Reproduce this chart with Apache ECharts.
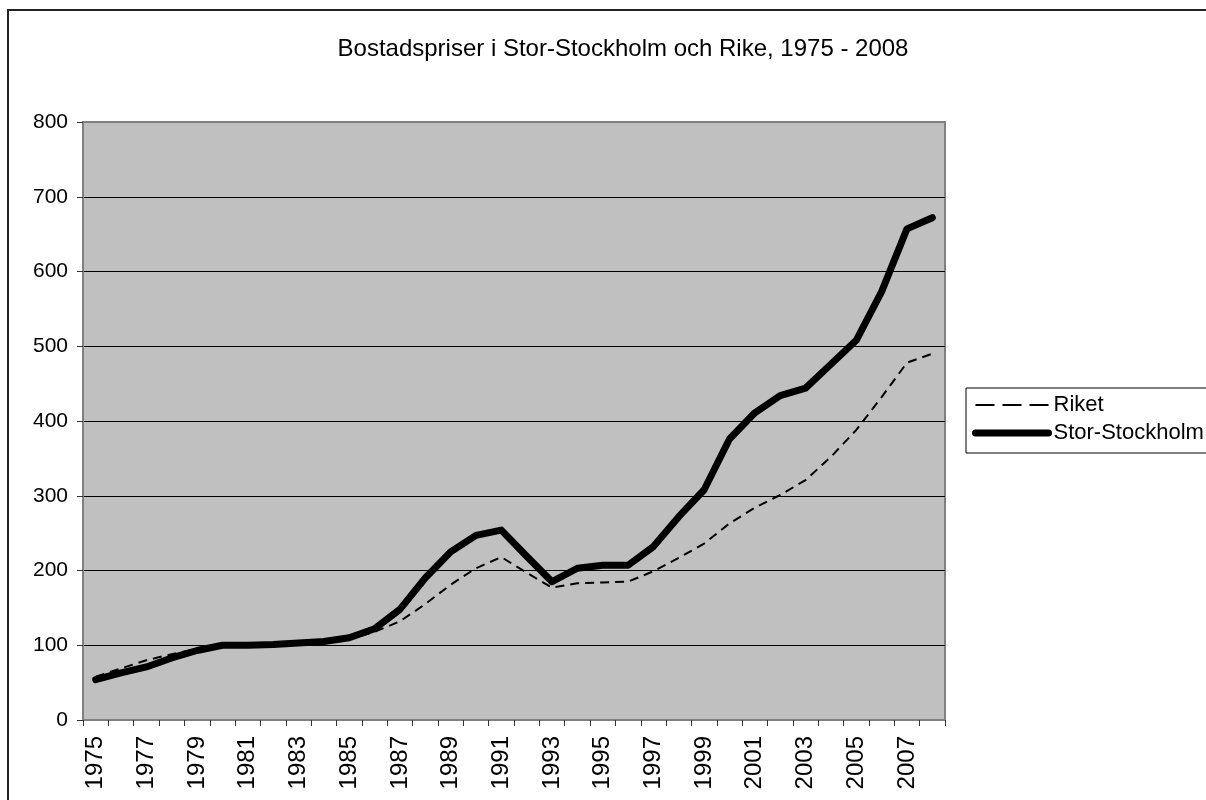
<!DOCTYPE html>
<html>
<head>
<meta charset="utf-8">
<title>Bostadspriser</title>
<script src="https://cdn.jsdelivr.net/npm/echarts@6/dist/echarts.min.js"></script>
<style>
  html, body { margin: 0; padding: 0; background: #fff; }
  #chart { width: 1206px; height: 800px; }
</style>
</head>
<body>
<div id="chart"></div>
<script>
// years on the category axis
var years = ['1975', '1976', '1977', '1978', '1979', '1980', '1981', '1982', '1983', '1984',
  '1985', '1986', '1987', '1988', '1989', '1990', '1991', '1992', '1993', '1994',
  '1995', '1996', '1997', '1998', '1999', '2000', '2001', '2002', '2003', '2004',
  '2005', '2006', '2007', '2008']

// index values
var riket = [58, 69, 80, 88, 95, 99, 99, 100, 102, 103,
  108, 118, 132, 155, 181, 203, 218, 197, 177, 183,
  184, 185, 199, 217, 236, 263, 284, 301, 321, 352,
  388, 432, 478, 490]

var storStockholm = [54, 63, 71, 83, 93, 100, 100, 101, 103, 105,
  110, 122, 148, 190, 225, 247, 254, 219, 185, 203,
  207, 207, 232, 272, 308, 376, 411, 434, 444, 476,
  508, 573, 657, 672]

var seriesNames = ['Riket', 'Stor-Stockholm']

var font = '"Liberation Sans", Arial, sans-serif'

var chart = echarts.init(document.getElementById('chart'))
chart.setOption({
  animation: false,
  backgroundColor: '#fff',
  textStyle: { fontFamily: font, color: '#000' },
  title: {
    text: 'Bostadspriser i Stor-Stockholm och Rike, 1975 - 2008',
    left: 618,
    top: 32,
    textAlign: 'center',
    textStyle: { fontFamily: font, fontSize: 24, fontWeight: 'normal', color: '#000' }
  },
  graphic: [
    {
      // outer chart frame
      type: 'rect',
      shape: { x: 8, y: 10, width: 1240, height: 840 },
      style: { fill: 'none', stroke: '#222', lineWidth: 2 },
      silent: true
    }
  ],
  legend: {
    orient: 'vertical',
    left: 966,
    top: 388,
    padding: [6, 40, 9, 6],
    itemGap: 6,
    itemWidth: 73,
    itemHeight: 14,
    borderColor: '#000',
    borderWidth: 1,
    itemStyle: { color: 'rgba(0,0,0,0)', borderWidth: 0 },
    data: [
      { name: seriesNames[0], lineStyle: { width: 2, type: [19, 8] } },
      { name: seriesNames[1], lineStyle: { width: 7, cap: 'round' } }
    ],
    textStyle: { fontFamily: font, fontSize: 22, lineHeight: 22, color: '#000' }
  },
  grid: {
    left: 83,
    top: 122,
    right: 261,
    bottom: 80,
    show: true,
    backgroundColor: '#c0c0c0',
    borderColor: '#808080',
    borderWidth: 2
  },
  xAxis: {
    type: 'category',
    data: years,
    boundaryGap: true,
    axisLine: { lineStyle: { color: '#808080', width: 2 } },
    axisTick: { show: true, interval: 0, length: 6, lineStyle: { color: '#333' } },
    axisLabel: {
      interval: 1,
      rotate: 90,
      margin: 16,
      fontFamily: font,
      fontSize: 24,
      color: '#000'
    },
    splitLine: { show: false }
  },
  yAxis: {
    type: 'value',
    min: 0,
    max: 800,
    interval: 100,
    axisLine: { show: true, lineStyle: { color: '#808080', width: 2 } },
    axisTick: { show: true, length: 6, lineStyle: { color: '#333' } },
    axisLabel: { margin: 15, fontFamily: font, fontSize: 21, color: '#000' },
    splitLine: {
      show: true,
      lineStyle: {
        color: ['#808080', '#000', '#000', '#000', '#000', '#000', '#000', '#000', '#808080'],
        width: 1
      }
    }
  },
  series: [
    {
      name: seriesNames[0],
      type: 'line',
      data: riket,
      symbol: 'none',
      lineStyle: { color: '#000', width: 2, type: [9, 6] },
      itemStyle: { color: '#000' },
      z: 3
    },
    {
      name: seriesNames[1],
      type: 'line',
      data: storStockholm,
      symbol: 'none',
      lineStyle: { color: '#000', width: 7, cap: 'round', join: 'round' },
      itemStyle: { color: '#000' },
      z: 4
    }
  ]
})
</script>
</body>
</html>
